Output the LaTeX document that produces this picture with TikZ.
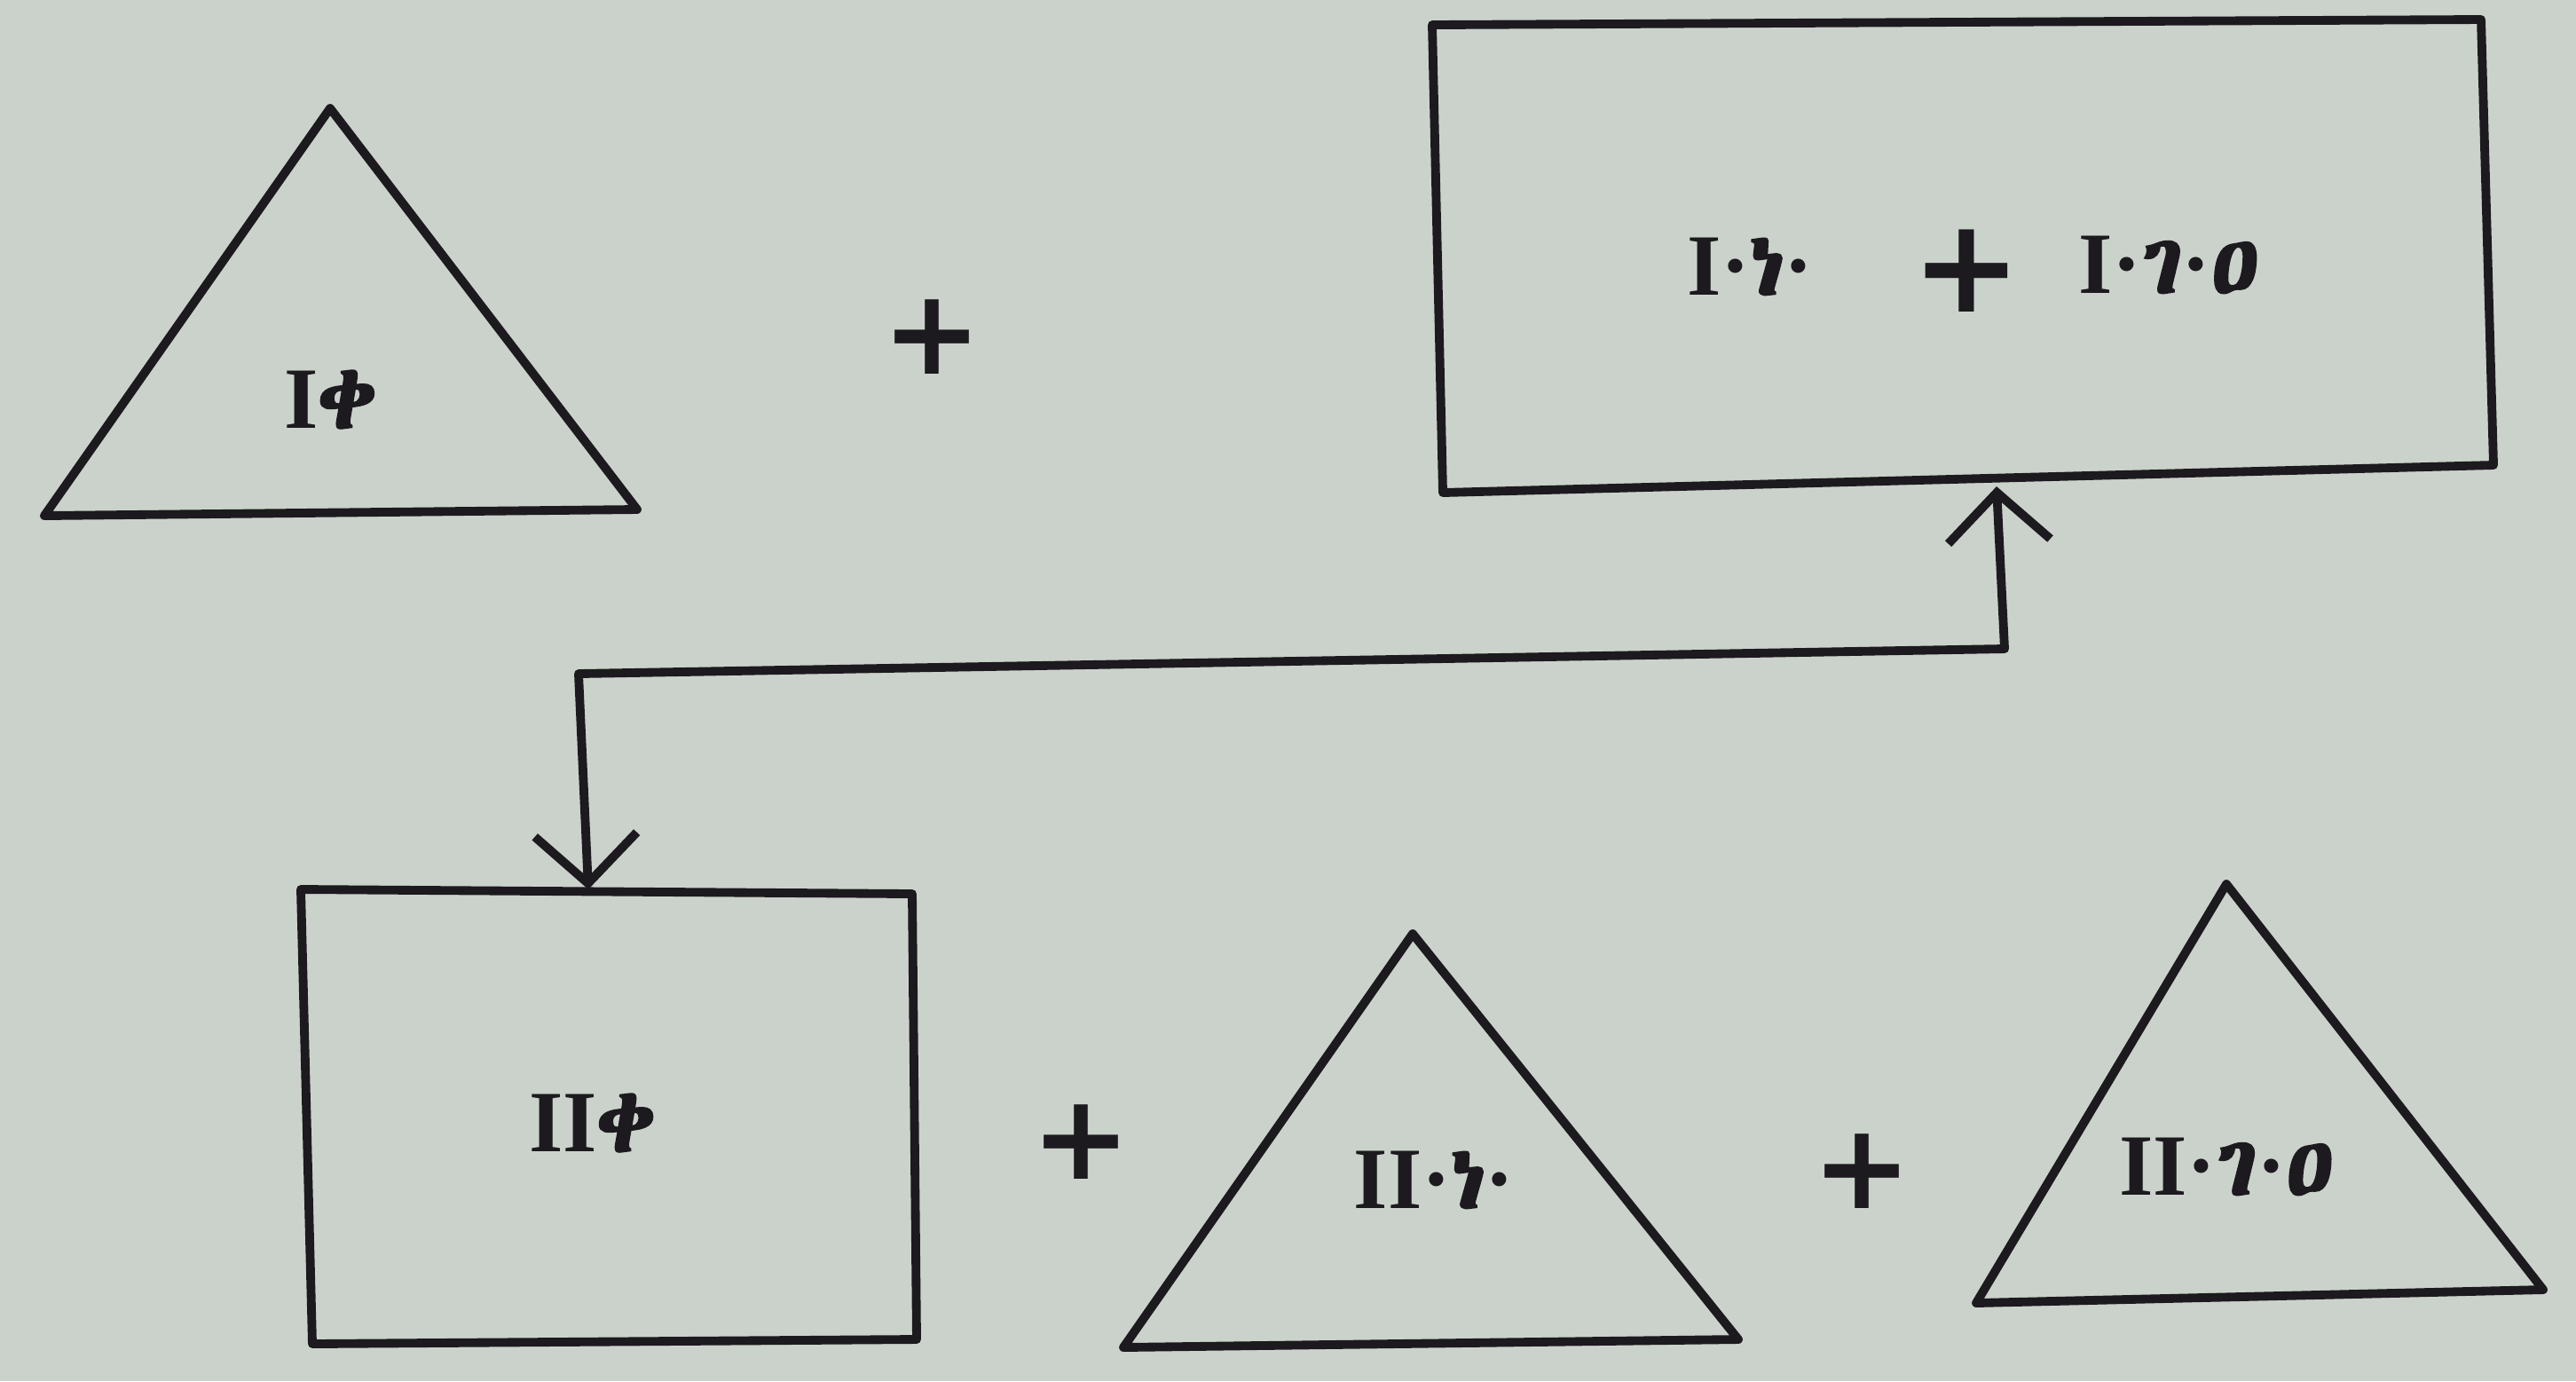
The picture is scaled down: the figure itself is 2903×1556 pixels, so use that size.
\documentclass[tikz,border=0pt]{standalone}
\usepackage{fontspec}
\usetikzlibrary{arrows.meta}
\setmainfont{Liberation Serif}
\newfontfamily\dvs{DejaVu Serif}
\newfontfamily\dvsans{DejaVu Sans}
\IfFontExistsTF{Abyssinica SIL}
  {\newfontfamily\ethfont{Abyssinica SIL}[FakeBold=2.5]
   \newcommand{\letQ}{{\ethfont ቀ}}
   \newcommand{\letN}{{\ethfont ነ}}
   \newcommand{\letG}{{\ethfont ገ}}
   \newcommand{\letA}{{\ethfont ዐ}}}
  {\newcommand{\letQ}{{\dvs\bfseries ф}}
   \newcommand{\letN}{{\dvs\bfseries l}}
   \newcommand{\letG}{{\dvsans\bfseries ℸ}}
   \newcommand{\letA}{{\dvs\bfseries δ}}}
\newcommand{\rn}[1]{{\bfseries #1}}
\definecolor{paper}{RGB}{203,210,203}
\definecolor{ink}{RGB}{28,26,30}
\begin{document}
\begin{tikzpicture}[x=0.01cm,y=-0.01cm,
  shapeline/.style={draw=ink,line width=2.8pt,line join=round,line cap=round},
  lbl/.style={text=ink,font=\fontsize{28}{34}\selectfont,inner sep=0pt},
  plussign/.style={text=ink,font=\dvsans\bfseries\fontsize{38}{40}\selectfont,inner sep=0pt},
  barb/.style={{Straight Barb[length=0.55cm,width=1.15cm,line width=2.8pt]}-{Straight Barb[length=0.55cm,width=1.15cm,line width=2.8pt]}}]
\fill[paper] (0,0) rectangle (2903,1556);
\useasboundingbox (0,0) rectangle (2903,1556);
% triangle I c
\coordinate (t1a) at (372,122);
\coordinate (t1l) at (50,581);
\coordinate (t1r) at (718,574);
\draw[shapeline] (t1a) -- (t1r) -- (t1l) -- cycle;
\node[lbl] (ic) at (372,450) {\rn{I}\letQ};
\node[plussign] (p1) at (1050,380) {+};
% top box I(v+m)
\coordinate (b1tl) at (1614,28);
\coordinate (b1tr) at (2796,22);
\coordinate (b1br) at (2810,524);
\coordinate (b1bl) at (1626,555);
\draw[shapeline] (b1tl) -- (b1tr) -- (b1br) -- (b1bl) -- cycle;
\node[lbl] (iv) at (1972,300) {\rn{I·}\letN\rn{·}};
\node[plussign,font=\dvsans\bfseries\fontsize{42}{44}\selectfont] (p2) at (2216,305) {+};
\node[lbl] (im) at (2444,298) {\rn{I·}\letG\rn{·}\letA};
% lower box II c
\coordinate (b2tl) at (339,1002);
\coordinate (b2tr) at (1028,1007);
\coordinate (b2br) at (1033,1509);
\coordinate (b2bl) at (352,1514);
\draw[shapeline] (b2tl) -- (b2tr) -- (b2br) -- (b2bl) -- cycle;
\node[lbl] (iic) at (667,1265) {\rn{II}\letQ};
\node[plussign] (p3) at (1218,1287) {+};
% triangle II v
\coordinate (t2a) at (1592,1052);
\coordinate (t2l) at (1266,1518);
\coordinate (t2r) at (1959,1509);
\draw[shapeline] (t2a) -- (t2r) -- (t2l) -- cycle;
\node[lbl] (iiv) at (1616,1329) {\rn{II·}\letN\rn{·}};
\node[plussign] (p4) at (2098,1320) {+};
% triangle II m
\coordinate (t3a) at (2509,996);
\coordinate (t3l) at (2227,1468);
\coordinate (t3r) at (2866,1453);
\draw[shapeline] (t3a) -- (t3r) -- (t3l) -- cycle;
\node[lbl] (iim) at (2509,1314) {\rn{II·}\letG\rn{·}\letA};
% exchange arrow
\coordinate (upt) at (2250,548);
\coordinate (rc) at (2259,731);
\coordinate (lc) at (652,759);
\coordinate (dnt) at (663,1002);
\draw[shapeline,barb] (upt) -- (rc) -- (lc) -- (dnt);
\end{tikzpicture}
\end{document}
